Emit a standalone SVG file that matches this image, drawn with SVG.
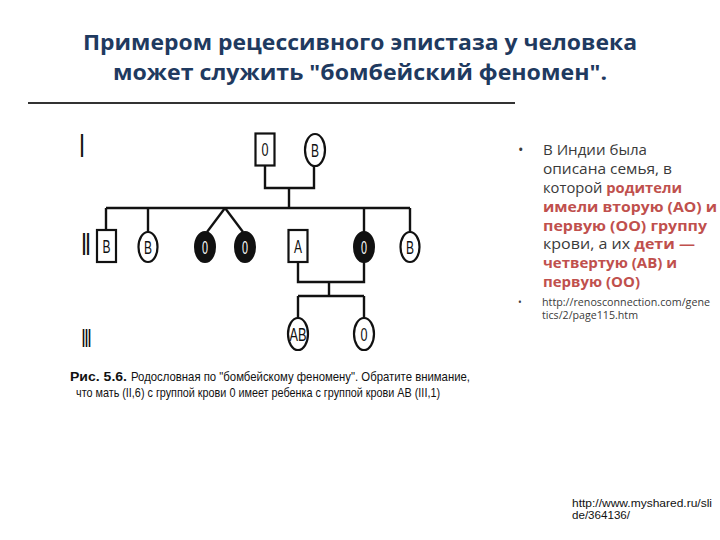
<svg xmlns="http://www.w3.org/2000/svg" width="720" height="540" viewBox="0 0 720 540">
<style>
.title{font-family:"Open Sans","Noto Sans","DejaVu Sans",sans-serif;font-weight:bold;font-size:22px;fill:#1f3a60}
.sym{fill:#fff;stroke:#111;stroke-width:2.2}
.fill{fill:#111;stroke:#111;stroke-width:2}
.lbl{font-family:"Liberation Sans","DejaVu Sans",sans-serif;font-size:18px;fill:#111;text-anchor:middle}
.lblw{font-family:"Liberation Sans","DejaVu Sans",sans-serif;font-size:18px;fill:#fff;text-anchor:middle}
.gen{font-family:"Liberation Sans","DejaVu Sans",sans-serif;font-weight:bold;fill:#111}
.cap{font-family:"Liberation Sans","DejaVu Sans",sans-serif;font-size:13.5px;fill:#111}
.body{font-family:"Open Sans","Noto Sans","DejaVu Sans",sans-serif;font-size:14.5px;fill:#3a3a3a}
.red{fill:#c0504d;font-weight:bold}
.url{font-family:"Open Sans","Noto Sans","DejaVu Sans",sans-serif;font-size:10px;fill:#3a3a3a}
.url2{font-family:"Liberation Sans",Arial,sans-serif;font-size:11px;fill:#111}
</style>
<rect width="720" height="540" fill="#fff"/>
<text class="title" x="360" y="50" text-anchor="middle" textLength="554" lengthAdjust="spacingAndGlyphs">Примером рецессивного эпистаза у человека</text>
<text class="title" x="360" y="80" text-anchor="middle" textLength="494" lengthAdjust="spacingAndGlyphs">может служить "бомбейский феномен".</text>
<line x1="28" y1="103" x2="515" y2="103" stroke="#333" stroke-width="2"/>

<g id="connectors" fill="none" stroke="#111" stroke-width="2.4">
<polyline points="265,166 265,188 314,188 314,166"/>
<line x1="289" y1="188" x2="289" y2="208"/>
<line x1="106" y1="208" x2="410" y2="208"/>
<line x1="106" y1="208" x2="106" y2="230"/>
<line x1="148" y1="208" x2="148" y2="232"/>
<line x1="225" y1="208" x2="207" y2="232"/>
<line x1="225" y1="208" x2="243" y2="232"/>
<line x1="364" y1="208" x2="364" y2="232"/>
<line x1="410" y1="208" x2="410" y2="232"/>
<polyline points="298,262 298,282 364,282 364,262"/>
<line x1="329" y1="282" x2="329" y2="296"/>
<line x1="298" y1="296" x2="364" y2="296"/>
<line x1="298" y1="296" x2="298" y2="318"/>
<line x1="364" y1="296" x2="364" y2="318"/>
</g>

<text class="gen" x="80" y="157" font-size="33" textLength="4" lengthAdjust="spacingAndGlyphs">I</text>
<text class="gen" x="82" y="255" font-size="32" textLength="8" lengthAdjust="spacingAndGlyphs">II</text>
<text class="gen" x="82" y="347" font-size="26" textLength="9" lengthAdjust="spacingAndGlyphs">III</text>

<g id="n-I1"><rect class="sym" x="255.5" y="133.5" width="19" height="32"/><text class="lbl" x="265" y="156" textLength="7" lengthAdjust="spacingAndGlyphs">0</text></g>
<g id="n-I2"><ellipse class="sym" cx="315" cy="150" rx="10" ry="16"/><text class="lbl" x="315" y="157" textLength="8" lengthAdjust="spacingAndGlyphs">B</text></g>

<g id="n-II1"><rect class="sym" x="97" y="230" width="19" height="32"/><text class="lbl" x="106.5" y="253" textLength="8" lengthAdjust="spacingAndGlyphs">B</text></g>
<g id="n-II2"><ellipse class="sym" cx="148" cy="247" rx="9.5" ry="15"/><text class="lbl" x="148" y="254" textLength="8" lengthAdjust="spacingAndGlyphs">B</text></g>
<g id="n-II3"><ellipse class="fill" cx="205" cy="247" rx="10" ry="15"/><text class="lblw" x="205" y="254" textLength="6" lengthAdjust="spacingAndGlyphs">0</text></g>
<g id="n-II4"><ellipse class="fill" cx="245" cy="247" rx="10" ry="15"/><text class="lblw" x="245" y="254" textLength="6" lengthAdjust="spacingAndGlyphs">0</text></g>
<g id="n-II5"><rect class="sym" x="288.5" y="230" width="19" height="32"/><text class="lbl" x="298" y="253" textLength="8" lengthAdjust="spacingAndGlyphs">A</text></g>
<g id="n-II6"><ellipse class="fill" cx="364" cy="247" rx="10" ry="15"/><text class="lblw" x="364" y="254" textLength="6" lengthAdjust="spacingAndGlyphs">0</text></g>
<g id="n-II7"><ellipse class="sym" cx="410" cy="247" rx="9.5" ry="15"/><text class="lbl" x="410" y="254" textLength="8" lengthAdjust="spacingAndGlyphs">B</text></g>

<g id="n-III1"><ellipse class="sym" cx="298" cy="334" rx="10" ry="16"/><text class="lbl" x="298" y="341" textLength="17" lengthAdjust="spacingAndGlyphs">AB</text></g>
<g id="n-III2"><ellipse class="sym" cx="364" cy="334" rx="10" ry="16"/><text class="lbl" x="364" y="341" textLength="7" lengthAdjust="spacingAndGlyphs">0</text></g>

<text class="cap" x="70" y="381" font-weight="bold" textLength="57" lengthAdjust="spacingAndGlyphs">Рис. 5.6.</text>
<text class="cap" x="131" y="381" textLength="339" lengthAdjust="spacingAndGlyphs">Родословная по "бомбейскому феномену". Обратите внимание,</text>
<text class="cap" x="76" y="397" textLength="364" lengthAdjust="spacingAndGlyphs">что мать (II,6) с группой крови 0 имеет ребенка с группой крови АВ (III,1)</text>

<text class="body" x="518" y="155">•</text>
<text class="body" x="543" y="155" textLength="104" lengthAdjust="spacingAndGlyphs">В Индии была</text>
<text class="body" x="543" y="174" textLength="129" lengthAdjust="spacingAndGlyphs">описана семья, в</text>
<text class="body" x="543" y="193" textLength="139" lengthAdjust="spacingAndGlyphs">которой <tspan class="red">родители</tspan></text>
<text class="body red" x="543" y="212" textLength="174" lengthAdjust="spacingAndGlyphs">имели вторую (АО) и</text>
<text class="body red" x="543" y="231" textLength="164" lengthAdjust="spacingAndGlyphs">первую (ОО) группу</text>
<text class="body" x="543" y="249" textLength="152" lengthAdjust="spacingAndGlyphs">крови, а их <tspan class="red">дети —</tspan></text>
<text class="body red" x="543" y="268" textLength="134" lengthAdjust="spacingAndGlyphs">четвертую (АВ) и</text>
<text class="body red" x="543" y="287" textLength="97" lengthAdjust="spacingAndGlyphs">первую (ОО)</text>

<text class="url" x="518" y="306">•</text>
<text class="url" x="542" y="306" textLength="168" lengthAdjust="spacingAndGlyphs">http://renosconnection.com/gene</text>
<text class="url" x="542" y="319" textLength="96" lengthAdjust="spacingAndGlyphs">tics/2/page115.htm</text>

<text class="url2" x="572" y="507" textLength="140" lengthAdjust="spacingAndGlyphs">http://www.myshared.ru/sli</text>
<text class="url2" x="572" y="519" textLength="58" lengthAdjust="spacingAndGlyphs">de/364136/</text>
</svg>
